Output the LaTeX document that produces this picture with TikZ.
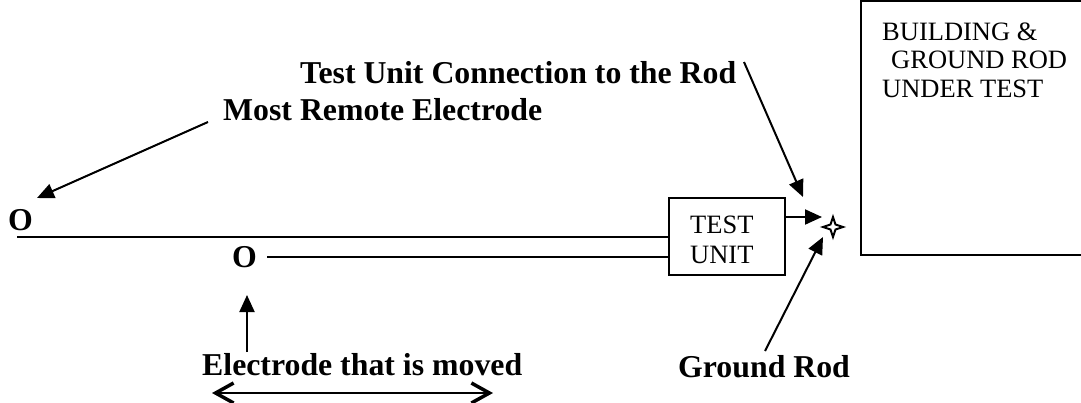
\documentclass[tikz,border=0pt]{standalone}
\usepackage{fontspec}
\setmainfont{Liberation Serif}
\usetikzlibrary{arrows.meta}
\begin{document}
\begin{tikzpicture}[x=1pt,y=-1pt,
  lbl/.style={font=\bfseries\fontsize{31.8}{36}\selectfont, inner sep=0pt, anchor=base west},
  txt/.style={font=\fontsize{26.5}{30}\selectfont, inner sep=0pt, anchor=base west},
  ln/.style={line width=2pt},
  arr/.style={ln, -{Triangle[length=17pt,width=15pt]}},
  barb/.tip={Straight Barb[length=18pt,width=20pt,line width=3.5pt]}]
\useasboundingbox (0,0) rectangle (1081,402);
% building
\draw[ln] (1090,1) -- (861,1) -- (861,255) -- (1090,255);
\node[txt] (b1) at (882,40) {BUILDING \&};
\node[txt] (b2) at (891,68) {GROUND ROD};
\node[txt] (b3) at (882,97) {UNDER TEST};
% test unit
\node[draw, ln, minimum width=116pt, minimum height=77pt, inner sep=0pt] (tu) at (727,236.5) {};
\node[txt] (t1) at (690,233) {TEST};
\node[txt] (t2) at (690,263) {UNIT};
% electrodes
\node[lbl] (o1) at (8,230) {O};
\node[lbl] (o2) at (232,267) {O};
\coordinate (l1s) at (17,237);
\coordinate (l2s) at (267,257);
\draw[ln] (l1s) -- (tu.west |- l1s);
\draw[ln] (l2s) -- (tu.west |- l2s);
% ground rod star
\coordinate (star) at (833,227);
\draw[ln, fill=white] (833,217) -- (835.5,224.5) -- (843,227) -- (835.5,229.5) -- (833,237) -- (830.5,229.5) -- (823,227) -- (830.5,224.5) -- cycle;
\coordinate (tuo) at (785,217);
\coordinate (tuoe) at (822,217);
\draw[arr] (tuo) -- (tuoe);
% labels
\node[lbl] (tuc) at (300,83) {Test Unit Connection to the Rod};
\node[lbl] (mre) at (223,120) {Most Remote Electrode};
\node[lbl] (gr) at (678,377) {Ground Rod};
\node[lbl] (etm) at (202,375) {Electrode that is moved};
% arrows
\coordinate (a1s) at (744,62);
\coordinate (a1e) at (803,197);
\draw[arr] (a1s) -- (a1e);
\coordinate (a2s) at (208,122);
\coordinate (a2e) at (37,198);
\draw[arr] (a2s) -- (a2e);
\coordinate (a3s) at (765,351);
\coordinate (a3e) at (823,237);
\draw[arr] (a3s) -- (a3e);
\coordinate (a4s) at (247,352);
\coordinate (a4e) at (247,295);
\draw[arr] (a4s) -- (a4e);
\coordinate (d1) at (212,393);
\coordinate (d2) at (493,393);
\draw[line width=1.6pt, barb-barb] (d1) -- (d2);
\end{tikzpicture}
\end{document}
